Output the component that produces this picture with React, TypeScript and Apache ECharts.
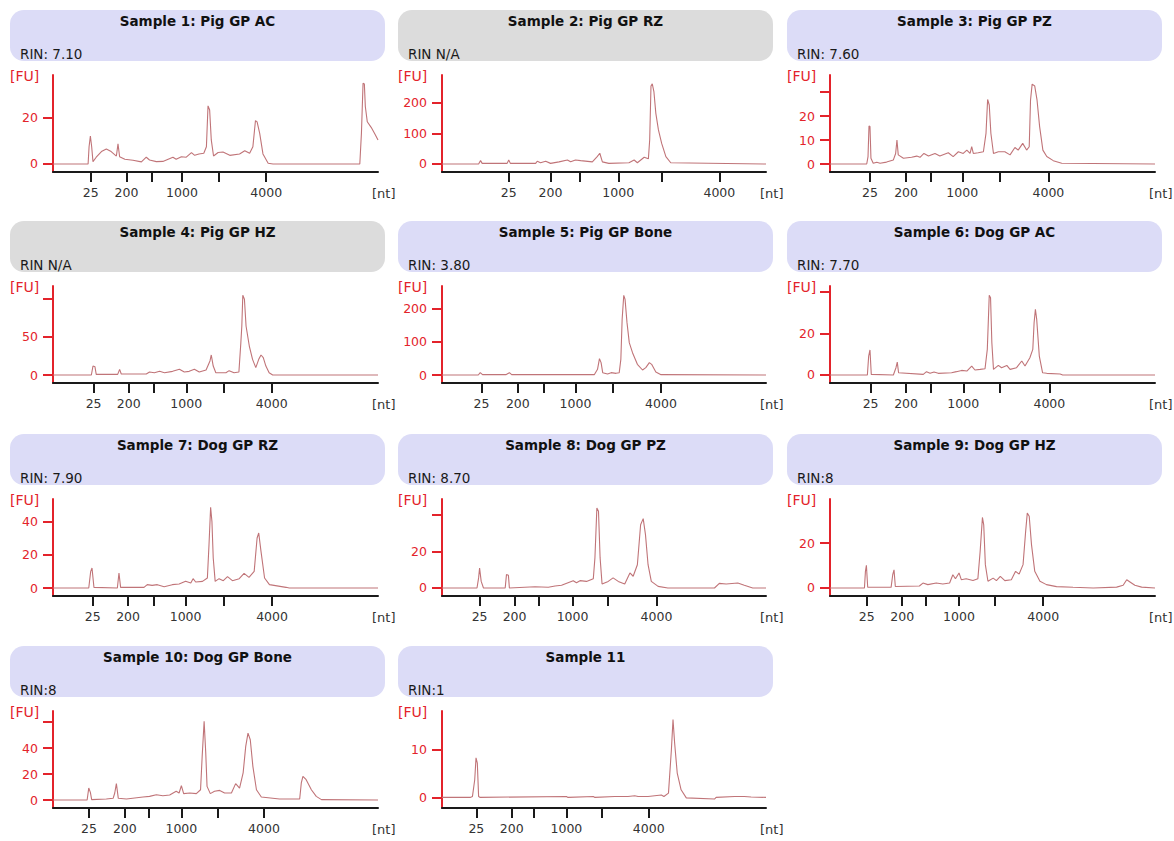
import React, { useEffect, useRef } from "react";
import * as echarts from "echarts";

// ---------- Data (x = relative migration time, 0-100 of the plotted window; y = fluorescence [FU]) ----------
const sampleTitles = [
  "Sample 1: Pig GP AC",
  "Sample 2: Pig GP RZ",
  "Sample 3: Pig GP PZ",
  "Sample 4: Pig GP HZ",
  "Sample 5: Pig GP Bone",
  "Sample 6: Dog GP AC",
  "Sample 7: Dog GP RZ",
  "Sample 8: Dog GP PZ",
  "Sample 9: Dog GP HZ",
  "Sample 10: Dog GP Bone",
  "Sample 11",
];
const rinTexts = ["RIN: 7.10", "RIN N/A", "RIN: 7.60", "RIN N/A", "RIN: 3.80", "RIN: 7.70", "RIN: 7.90", "RIN: 8.70", "RIN:8", "RIN:8", "RIN:1"];
const rinAvailable = [true, false, true, false, true, true, true, true, true, true, true];

const ladderLabels = ["25", "200", "", "1000", "", "4000"];
const ladderPositions = [
  [11.6, 22.6, 30.3, 39.7, 51.0, 65.6],
  [20.6, 33.5, 42.6, 54.4, 67.7, 85.6],
  [12.3, 23.4, 31.0, 40.7, 52.1, 67.2],
  [12.5, 23.3, 30.9, 41.0, 52.4, 67.3],
  [12.2, 23.4, 31.3, 41.2, 52.7, 67.6],
  [12.5, 23.4, 31.0, 41.0, 52.3, 67.5],
  [12.2, 23.1, 30.9, 40.8, 52.4, 67.4],
  [11.6, 22.4, 29.9, 40.3, 51.3, 66.2],
  [11.3, 22.2, 29.6, 39.7, 50.7, 65.6],
  [11.1, 22.1, 29.5, 39.5, 50.6, 64.9],
  [10.6, 21.5, 28.4, 38.4, 49.4, 63.8],
];

const yMin = [-3.43, -26.1, -3.33, -10.4, -24, -3.84, -4.8, -4.36, -3.56, -6.15, -2.22];
const yMax = [38.1, 290, 37.1, 116, 267, 42.7, 53.4, 48.5, 39.6, 68.5, 18.1];
const yTicks = [[0, 20], [0, 100, 200], [0, 10, 20, 30], [0, 50, 100], [0, 100, 200], [0, 20, 40], [0, 20, 40], [0, 20, 40], [0, 20], [0, 20, 40, 60], [0, 10]];
const yTickLabels = [[0, 20], [0, 100, 200], [0, 10, 20], [0, 50], [0, 100, 200], [0, 20], [0, 20, 40], [0, 20], [0, 20], [0, 20, 40], [0, 10]];

const trace1 = [[0,0],[10.8,0],[11.1,7.4],[11.5,12],[11.9,7.4],[12.3,1],[13.3,2.9],[14.9,5.3],[16.4,6.4],[17.9,5.3],[19.5,3.4],[20,8.6],[20.5,3.1],[22.1,2],[24.6,1.6],[27.2,0.9],[28.7,2.9],[29.7,1.7],[31.8,1],[33.8,1.1],[36.9,2.9],[37.9,2],[39.5,3.1],[41,2.9],[42.6,4.9],[43.6,3.7],[44.9,4.3],[46.4,4.6],[47.2,7.4],[47.7,24.9],[48.2,23.1],[48.7,10.3],[49.4,3.4],[50.8,4.9],[52.3,5.1],[54.4,3.7],[57.4,4.3],[59,5.7],[60.5,4.6],[61.5,7.4],[62.3,18.6],[62.8,18],[63.6,13.1],[64.6,4.3],[66.2,0.3],[67.7,0],[94.4,0],[94.9,13.1],[95.4,34.6],[95.8,34.3],[96.1,24.6],[96.7,18.1],[97.9,15.7],[99,12.9],[100,10.3]];
const trace2 = [[0,0],[11.3,0],[11.9,11],[12.4,2],[20.1,2],[20.6,13],[21.1,2],[28.9,2],[29.4,9],[30.4,4],[32,9],[33.5,2],[36.1,7],[38.7,13],[39.7,7],[41.2,13],[42.8,11],[46.4,7],[47.9,24],[48.7,35],[49.5,7],[51.5,2],[57.7,4],[59.3,13],[60.3,4],[62.4,22],[63.7,17],[64.1,78],[64.5,254],[64.9,261],[65.4,236],[66,165],[66.8,111],[67.8,67],[69.1,24],[70.6,4],[100,0]];
const trace3 = [[0,0],[11.3,0],[11.7,3.1],[12,15.8],[12.3,15.6],[12.6,2.4],[13.3,0.3],[14.4,0.7],[15.4,0.3],[17.4,0.8],[19.5,1.7],[20.2,4.4],[20.6,10],[21,3.8],[22.6,2.4],[25.1,2.8],[26.7,3.3],[27.7,2.8],[28.9,4.4],[30.3,3.3],[32.3,4.4],[33.8,3.3],[36.4,4.7],[37.9,3.1],[39.5,5.1],[41,4.4],[42.1,5.8],[43.1,4.4],[43.6,7.2],[44.1,4.4],[45.6,4.7],[47.2,5.1],[48,12.8],[48.5,26.9],[49,24.6],[49.5,12.8],[50.3,4.4],[51.8,5.1],[53.8,5.1],[55.4,3.8],[56.9,6.9],[57.9,5.8],[59.3,8.6],[60.5,5.8],[61.3,7.2],[61.7,26.7],[62.2,33.3],[63,32.5],[63.7,26.7],[64.5,15.6],[65.5,5.8],[66.7,3.1],[68.7,1.4],[71.3,0.3],[100,0]];
const trace4 = [[0,0],[11.8,0],[12.3,11.7],[12.9,10.9],[13.3,0.9],[19.9,0.9],[20.5,7.4],[21,1.3],[28.7,1.3],[29.7,3.9],[31.2,3],[32.8,4.8],[34.3,3],[36.8,4.8],[38.9,7.4],[40.4,3.9],[41.9,4.8],[43.5,7.4],[45,3.9],[47.1,6.5],[48.3,18.3],[48.7,26.1],[49.3,11.7],[50.1,3],[53.2,3],[54.2,5.7],[55.7,3],[57.2,3.9],[57.8,42.2],[58.1,63.9],[58.4,103.9],[58.9,98.7],[59.4,63.9],[60.4,37.8],[61.4,20.4],[62.4,9.6],[63.3,20.4],[64,26.1],[64.7,22.6],[65.5,11.7],[66.5,3],[67.6,0],[100,0]];
const trace5 = [[0,0],[11.2,0],[11.8,7],[12.5,1],[19.7,1],[20.8,7],[21.5,1],[47,1],[48,17],[48.6,49],[49.1,37],[49.6,7],[51.1,3],[52.2,7],[53.7,5],[54.7,7],[55.2,47],[55.6,167],[56.1,239],[56.5,227],[57.1,157],[57.8,97],[58.8,67],[60.3,32],[61.9,15],[62.9,22],[64,37],[64.7,32],[66,9],[67.6,1],[100,0]];
const trace6 = [[0,0],[11.5,0],[11.9,9.1],[12.3,12],[12.7,0.3],[19.5,0],[20.3,3.5],[20.7,6.2],[21.1,1.1],[28.7,0.3],[29.7,1.6],[30.8,0.8],[32,1.4],[33.3,0.8],[37.4,1.1],[38.9,1.6],[40.5,2.2],[42.1,1.9],[43.6,4.3],[44.6,2.4],[46.2,2.7],[47.7,3],[48.4,12.3],[49,38.2],[49.4,37.1],[49.8,15.5],[50.3,2.7],[51.8,4.6],[52.8,3.5],[54.4,4.6],[55.4,2.7],[57.4,3.5],[59,6.7],[60,4.3],[61.5,8.3],[62.4,12.3],[62.8,25.1],[63.2,31.5],[63.6,26.7],[64.4,9.1],[65.4,1.1],[66.7,0.8],[70.8,0.5],[71.6,0],[100,0]];
const trace7 = [[0,0],[11,0],[11.6,10],[12,12],[12.6,0.4],[19.8,0],[20.3,9],[20.8,0.4],[28,0.4],[29,2],[30.5,1.6],[32.1,2],[34.2,0.8],[36.7,2],[38.8,2.4],[40.8,4],[42.4,3],[43.1,5.6],[43.9,3.6],[46,4],[47.5,6],[48,26],[48.5,48.4],[48.9,40],[49.3,18],[49.9,4],[51.1,5.6],[52.4,4.4],[53.7,6.8],[55.2,4.4],[57.3,5.6],[58.8,8.8],[60.3,6.4],[61.9,10],[62.8,30],[63.3,33],[64,22],[65.1,6],[66.6,2],[71.7,0.4],[72.7,0],[100,0]];
const trace8 = [[0,0],[10.8,0],[11.3,5.5],[11.6,10.9],[12.1,3.6],[12.8,0],[19.5,0],[19.9,7.3],[20.5,6.9],[20.8,0],[28.7,0.7],[32.8,0.4],[34.9,1.1],[36.9,1.5],[38.9,2.9],[40.5,4],[41.5,2.9],[42.6,4],[44.6,3.6],[46.7,5.1],[47.2,16.4],[47.8,43.6],[48.3,41.8],[48.8,16.4],[49.4,2.2],[51.3,3.6],[52.8,5.5],[54.4,3.6],[56.4,2.2],[58,8.2],[59,6.4],[60.3,12.7],[61.3,34.5],[62.1,37.8],[62.8,29.1],[63.6,12.7],[64.6,3.6],[66.7,0.9],[69.7,0],[84.1,0],[85.6,2.5],[87.7,2.2],[91.3,2.7],[93.3,1.5],[95.9,0],[100,0]];
const trace9 = [[0,0],[10.6,0],[10.9,7.4],[11.2,10.1],[11.6,0.3],[18.8,0.3],[19.3,5.9],[19.7,8.1],[20.1,0.7],[27.5,0.9],[28.6,2.2],[30.1,1.5],[32.7,2.2],[34.7,1.8],[36.8,2.2],[37.8,5.9],[38.6,4.1],[39.7,6.7],[40.4,3.7],[41.9,4.1],[44,3.3],[45.5,4.1],[46.2,16.3],[46.9,31.4],[47.3,28.1],[47.8,10.4],[48.6,3],[50.2,4.4],[51.2,3.3],[52.4,5.2],[53.8,3.3],[55.8,3.7],[57.1,7.4],[58.2,6.2],[59.4,10.4],[60.2,25.2],[60.7,33.3],[61.3,31.9],[62,19.3],[63,7.4],[64.6,3],[66.6,1.5],[69.7,0.6],[74.8,0.3],[81,0],[88.2,0.4],[90.2,1.2],[91.3,3.7],[92.3,2.7],[93.8,1.2],[95.9,0.4],[100,0]];
const trace10 = [[0,0],[10.5,0],[11,9.2],[11.5,5.9],[11.9,0.3],[16.4,0.8],[18.5,1.3],[19,5.4],[19.5,12.6],[20.1,1.3],[22.6,0.8],[27.7,2.3],[29.7,2.8],[31.8,4.1],[33.8,3.3],[35.9,3.8],[37.9,6.7],[38.8,5.4],[39.5,11],[40.2,4.9],[42.1,5.4],[44.1,4.9],[45.4,7.9],[45.9,33.6],[46.5,60.5],[47,36.2],[47.4,10.5],[48.4,4.9],[49.7,6.7],[51.3,7.4],[52.8,5.4],[54.9,5.4],[56.2,12.6],[57.4,9.2],[58.5,20.8],[59.3,41.3],[60,51.5],[60.7,46.4],[61.5,25.9],[62.6,7.9],[64.1,2.3],[69.7,0.8],[75.9,0.8],[76.4,13.1],[76.9,18.2],[77.9,15.6],[79.5,7.9],[81,2.8],[82.6,0.3],[100,0]];
const trace11 = [[0,0],[8.7,0],[9.4,0.2],[10.1,3.7],[10.5,8.3],[10.9,7.2],[11.3,0.2],[11.8,0],[38.4,0.2],[38.9,0],[46.7,0.2],[47.2,0],[53.3,0.2],[57.4,0.2],[59.5,0.35],[60.5,0.2],[63.6,0.2],[67.7,0.5],[68.5,0.2],[69.9,0.9],[70.8,10],[71.3,16.3],[71.8,11.4],[72.6,5.1],[73.8,1.6],[75.4,-0.1],[84.1,-0.35],[84.6,0],[90.3,0.2],[93.3,0.2],[95.4,0.1],[100,0]];
const traces = [trace1, trace2, trace3, trace4, trace5, trace6, trace7, trace8, trace9, trace10, trace11];

// ---------- Layout ----------
const COL_AXIS_LEFT = [53, 442, 830];
const COL_AXIS_RIGHT = [378, 766, 1155];
const COL_HEADER_LEFT = [10, 398, 787];
const ROW_BOTTOM = [172, 383, 596, 808];
const PLOT_H = 97;
const HEADER_W = 375;
const HEADER_H = 51;
const FONT = '"DejaVu Sans", Verdana, sans-serif';
const RED = "#e3232b";
const TRACE = "#c07478";

export default function App() {
  const ref = useRef<HTMLDivElement>(null);

  useEffect(() => {
    if (!ref.current) return;
    const chart = echarts.init(ref.current, undefined, { renderer: "svg" });

    const grids: any[] = [];
    const xAxes: any[] = [];
    const yAxes: any[] = [];
    const series: any[] = [];
    const graphics: any[] = [];

    sampleTitles.forEach((title, i) => {
      const col = i % 3;
      const row = Math.floor(i / 3);
      const left = COL_AXIS_LEFT[col];
      const right = COL_AXIS_RIGHT[col];
      const bottom = ROW_BOTTOM[row];
      const ticks = ladderPositions[i];

      grids.push({ left, top: bottom - PLOT_H, width: right - left, height: PLOT_H, containLabel: false, outerBoundsMode: "none" });

      xAxes.push({
        type: "value",
        gridIndex: i,
        min: 0,
        max: 100,
        splitLine: { show: false },
        axisLine: { show: true, onZero: false, lineStyle: { color: "#1a1a1a", width: 2 } },
        axisTick: { show: true, customValues: ticks, length: 10, lineStyle: { color: "#1a1a1a", width: 2 } },
        axisLabel: {
          customValues: ticks.filter((_, k) => ladderLabels[k] !== ""),
          formatter: (v: number) => {
            const k = ticks.findIndex((t) => Math.abs(t - v) < 1e-6);
            return k >= 0 ? ladderLabels[k] : "";
          },
          color: "#333",
          fontSize: 12.5,
          fontFamily: FONT,
          margin: 14,
        },
      });

      yAxes.push({
        type: "value",
        gridIndex: i,
        min: yMin[i],
        max: yMax[i],
        splitLine: { show: false },
        axisLine: { show: true, lineStyle: { color: RED, width: 2 } },
        axisTick: { show: true, customValues: yTicks[i], length: 10, lineStyle: { color: RED, width: 2 } },
        axisLabel: { customValues: yTickLabels[i], color: RED, fontSize: 12.5, fontFamily: FONT, margin: 15 },
      });

      series.push({
        type: "line",
        xAxisIndex: i,
        yAxisIndex: i,
        data: traces[i],
        showSymbol: false,
        symbol: "none",
        silent: true,
        lineStyle: { color: TRACE, width: 1.1 },
      });

      const hx = COL_HEADER_LEFT[col];
      const hy = bottom - 162;
      graphics.push({
        type: "rect",
        shape: { x: hx, y: hy, width: HEADER_W, height: HEADER_H, r: 14 },
        style: { fill: rinAvailable[i] ? "#dcdcf7" : "#dcdcdc" },
        silent: true,
        z: -1,
      });
      graphics.push({
        type: "text",
        x: hx + HEADER_W / 2,
        y: hy + 11,
        style: { text: title, font: `bold 13.5px ${FONT}`, fill: "#111", align: "center", verticalAlign: "middle" },
        silent: true,
      });
      graphics.push({
        type: "text",
        x: hx + 10,
        y: hy + 44,
        style: { text: rinTexts[i], font: `13.5px ${FONT}`, fill: "#1a1a1a", align: "left", verticalAlign: "middle" },
        silent: true,
      });
      graphics.push({
        type: "text",
        x: hx,
        y: bottom - 96,
        style: { text: "[FU]", font: `14px ${FONT}`, fill: RED, align: "left", verticalAlign: "middle" },
        silent: true,
      });
      graphics.push({
        type: "text",
        x: right - 6,
        y: bottom + 21,
        style: { text: "[nt]", font: `13px ${FONT}`, fill: "#333", align: "left", verticalAlign: "middle" },
        silent: true,
      });
    });

    chart.setOption({
      animation: false,
      backgroundColor: "#ffffff",
      grid: grids,
      xAxis: xAxes,
      yAxis: yAxes,
      series,
      graphic: { elements: graphics },
    });

    return () => chart.dispose();
  }, []);

  return <div ref={ref} style={{ position: "absolute", left: 0, top: 0, width: 1174, height: 841 }} />;
}
